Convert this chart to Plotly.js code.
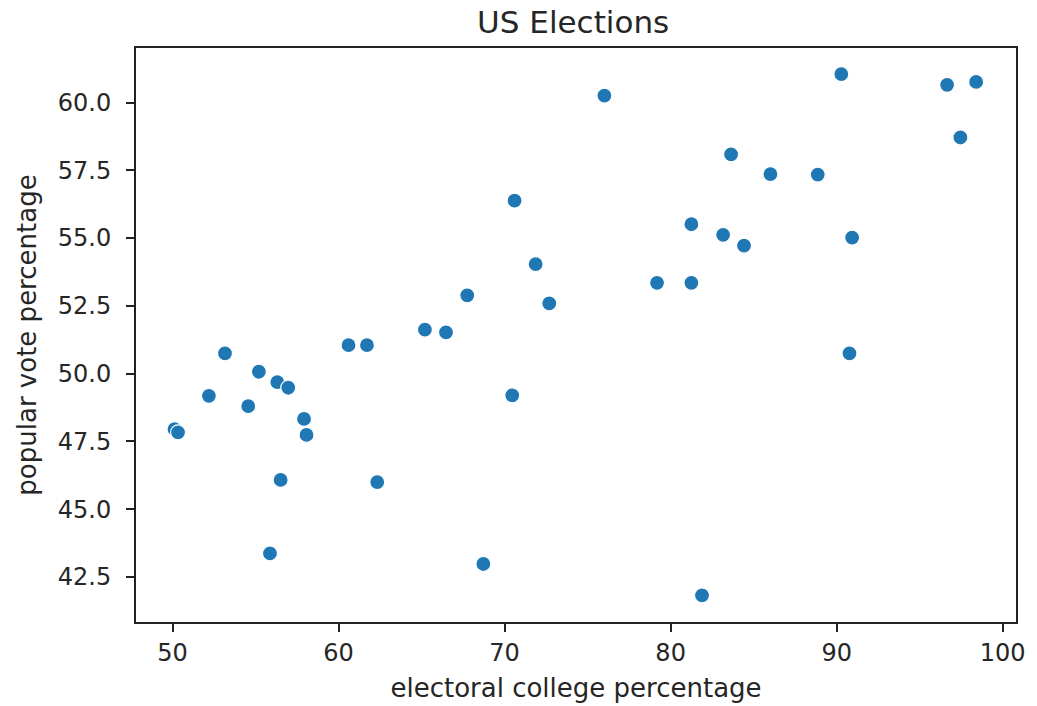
<!DOCTYPE html>
<html>
<head>
<meta charset="utf-8">
<script src="https://cdn.plot.ly/plotly-3.0.1.min.js"></script>
<style>
  html, body { margin: 0; padding: 0; background: #fff; }
  #chart { width: 1037px; height: 706px; }
</style>
</head>
<body>
<div id="chart"></div>
<script>
// electoral college percentage (x) and popular vote percentage (y)
const electoralCollege = [
  50.12, 50.33, 52.19, 53.16, 54.56, 55.20, 56.31, 56.97, 57.92, 58.07,
  56.51, 55.87, 60.60, 61.71, 62.33, 65.20, 66.47, 67.75, 68.72, 70.46,
  70.60, 71.87, 72.69, 76.01, 79.18, 81.25, 81.25, 81.89, 83.16, 84.42,
  83.64, 86.01, 88.86, 90.28, 90.77, 90.93, 96.65, 97.45, 98.40
];
const popularVote = [
  47.95, 47.83, 49.18, 50.75, 48.80, 50.07, 49.69, 49.48, 48.33, 47.74,
  46.08, 43.37, 51.05, 51.05, 46.00, 51.62, 51.52, 52.89, 42.98, 49.20,
  56.38, 54.04, 52.59, 60.25, 53.35, 55.51, 53.35, 41.82, 55.12, 54.72,
  58.09, 57.36, 57.34, 61.05, 50.75, 55.02, 60.65, 58.71, 60.76
];
const chartTitle = "US Elections";
const xLabel = "electoral college percentage";
const yLabel = "popular vote percentage";

const FONT = "DejaVu Sans, sans-serif";
const TXT = "#262626";

const trace = {
  type: "scatter",
  mode: "markers",
  x: electoralCollege,
  y: popularVote,
  marker: { color: "#1f77b4", size: 15, line: { color: "#ffffff", width: 1.2 } },
  hoverinfo: "x+y"
};

const axisCommon = {
  showgrid: false,
  zeroline: false,
  showline: true,
  mirror: true,
  linecolor: "#222222",
  linewidth: 2,
  ticks: "outside",
  ticklen: 8,
  tickwidth: 2,
  tickcolor: "#222222",
  tickfont: { family: FONT, size: 24, color: TXT }
};

const layout = {
  width: 1037,
  height: 706,
  paper_bgcolor: "#ffffff",
  plot_bgcolor: "#ffffff",
  margin: { l: 136, r: 21, t: 48, b: 84 },
  showlegend: false,
  title: {
    text: chartTitle,
    font: { family: FONT, size: 31, color: TXT },
    x: 0.5527, xanchor: "center",
    yref: "container", y: 1 - 22 / 706, yanchor: "middle"
  },
  xaxis: Object.assign({}, axisCommon, {
    range: [47.8, 100.8],
    tick0: 50, dtick: 10,
    title: { text: xLabel, font: { family: FONT, size: 26, color: TXT }, standoff: 13 }
  }),
  yaxis: Object.assign({}, axisCommon, {
    range: [40.84, 62.01],
    tick0: 42.5, dtick: 2.5,
    tickformat: ".1f",
    ticklabelstandoff: 10,
    title: { text: yLabel, font: { family: FONT, size: 26, color: TXT }, standoff: 14 }
  })
};

Plotly.newPlot("chart", [trace], layout, { displayModeBar: false, staticPlot: true });
</script>
</body>
</html>
